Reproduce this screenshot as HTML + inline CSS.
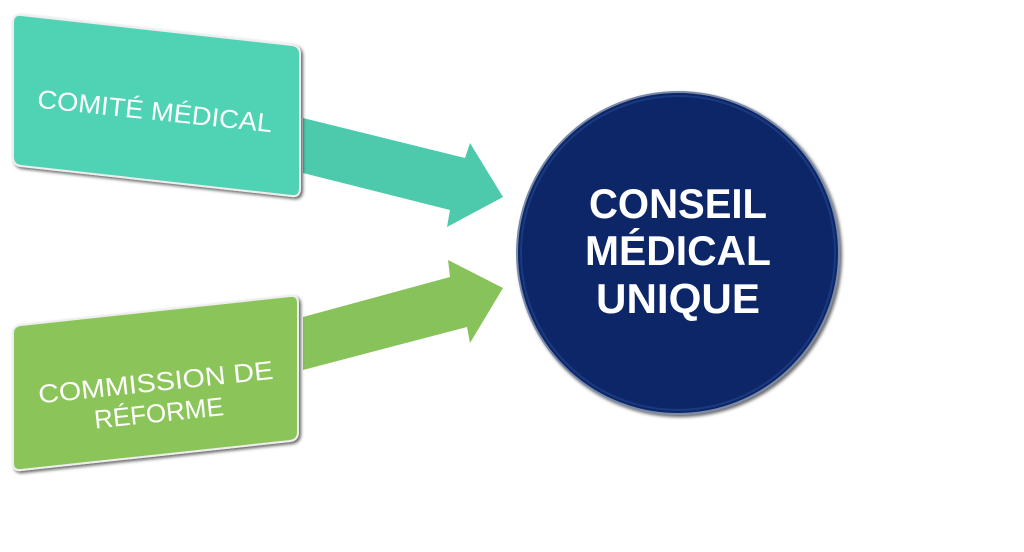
<!DOCTYPE html>
<html><head><meta charset="utf-8"><style>
html,body{margin:0;padding:0;background:#fff;}
</style></head><body>
<svg width="1024" height="547" viewBox="0 0 1024 547" xmlns="http://www.w3.org/2000/svg">
<defs>
<filter id="sh" x="-10%" y="-10%" width="130%" height="130%"><feDropShadow dx="2" dy="2" stdDeviation="1.5" flood-color="#000" flood-opacity="0.6"/></filter>
</defs>
<polygon points="303,118 465,158 470,143 503,197 447,227 450,210 303,173" fill="#4ccaab"/>
<polygon points="303,317 450,277 448,260 503,288 470,343 467,327 303,370" fill="#88c25a"/>
<path d="M21,15 L292,45 Q300,46 300,54 L300,188 Q300,197 292,196 L21,166 Q13,165 13,157 L13,23 Q13,14 21,15 Z" fill="#4fd3b4" stroke="#eee" stroke-width="2" filter="url(#sh)"/>
<path d="M21,325 L290,296 Q298,295 298,303 L298,432 Q298,440 290,441 L21,470 Q13,471 13,463 L13,333 Q13,326 21,325 Z" fill="#8bc55a" stroke="#eee" stroke-width="2" filter="url(#sh)"/>
<g font-family="Liberation Sans, sans-serif" fill="#fff" font-size="26" text-anchor="middle">
<text x="155" y="120" transform="rotate(6 155 110)" textLength="236" lengthAdjust="spacingAndGlyphs">COMITÉ MÉDICAL</text>
<text x="157" y="391" transform="rotate(-6 157 395)" textLength="236" lengthAdjust="spacingAndGlyphs">COMMISSION DE</text>
<text x="157" y="422" transform="rotate(-6 157 395)">RÉFORME</text>
</g>
<circle cx="678" cy="253" r="161" fill="#0a2868" stroke="#7a8aa8" stroke-width="2" filter="url(#sh)"/>
<circle cx="678" cy="253" r="157" fill="none" stroke="#1a3a80" stroke-width="2"/>
<g font-family="Liberation Sans, sans-serif" font-weight="bold" fill="#fff" font-size="42" text-anchor="middle">
<text x="678" y="218" textLength="178" lengthAdjust="spacingAndGlyphs">CONSEIL</text>
<text x="678" y="265" textLength="186" lengthAdjust="spacingAndGlyphs">MÉDICAL</text>
<text x="678" y="313" textLength="164" lengthAdjust="spacingAndGlyphs">UNIQUE</text>
</g>
</svg>
</body></html>
